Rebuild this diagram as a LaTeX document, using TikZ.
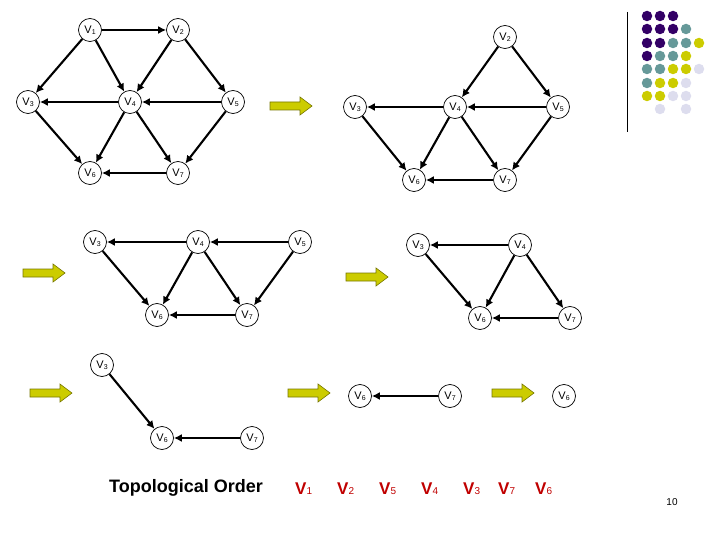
\documentclass[tikz,border=0pt]{standalone}
\usepackage{fontspec}
\setmainfont{Liberation Sans}
\usetikzlibrary{arrows.meta}
\definecolor{dpurple}{HTML}{330066}
\definecolor{dteal}{HTML}{669999}
\definecolor{dyellow}{HTML}{CCCC00}
\definecolor{dlav}{HTML}{DDDDEE}
\definecolor{ordred}{HTML}{C00000}
\definecolor{arrowedge}{HTML}{777700}
\newcommand{\vlab}[1]{V\kern0.2pt\raisebox{-1pt}{\fontsize{7}{7}\selectfont #1}}
\newcommand{\olab}[1]{\textbf{V}\raisebox{-0.5pt}{\fontsize{10}{10}\selectfont #1}}
\tikzset{
  vert/.style={circle, draw, line width=0.7pt, minimum size=23pt, inner sep=0pt,
    fill=white, font=\fontsize{11}{11}\selectfont},
  edge/.style={line width=2.1pt, -{Latex[length=8pt,width=8pt]}},
  ord/.style={text=ordred, font=\fontsize{17}{17}\selectfont, anchor=base west, inner sep=0pt},
  dot/.style={circle, inner sep=0pt, minimum size=10.5pt},
  pics/blockarrow/.style={code={
    \draw[fill=dyellow, draw=arrowedge, line width=0.6pt]
      (0,-4)--(30,-4)--(30,-9)--(42,0)--(30,9)--(30,4)--(0,4)--cycle;}}
}
\begin{document}
\begin{tikzpicture}[x=1pt,y=-1pt]
\useasboundingbox (0,0) rectangle (720,540);
% graph 1
\node[vert] (a1) at (90,30) {\vlab1};
\node[vert] (a2) at (178,30) {\vlab2};
\node[vert] (a3) at (28,102) {\vlab3};
\node[vert] (a4) at (130,102) {\vlab4};
\node[vert] (a5) at (233,102) {\vlab5};
\node[vert] (a6) at (90,173) {\vlab6};
\node[vert] (a7) at (178,173) {\vlab7};
\draw[edge] (a1) -- (a2);
\draw[edge] (a1) -- (a3);
\draw[edge] (a1) -- (a4);
\draw[edge] (a2) -- (a4);
\draw[edge] (a2) -- (a5);
\draw[edge] (a4) -- (a3);
\draw[edge] (a5) -- (a4);
\draw[edge] (a3) -- (a6);
\draw[edge] (a4) -- (a6);
\draw[edge] (a4) -- (a7);
\draw[edge] (a5) -- (a7);
\draw[edge] (a7) -- (a6);
% graph 2
\pic at (270,106) {blockarrow};
\node[vert] (b2) at (505,37) {\vlab2};
\node[vert] (b3) at (355,107) {\vlab3};
\node[vert] (b4) at (455,107) {\vlab4};
\node[vert] (b5) at (558,107) {\vlab5};
\node[vert] (b6) at (414,180) {\vlab6};
\node[vert] (b7) at (505,180) {\vlab7};
\draw[edge] (b2) -- (b4);
\draw[edge] (b2) -- (b5);
\draw[edge] (b4) -- (b3);
\draw[edge] (b5) -- (b4);
\draw[edge] (b3) -- (b6);
\draw[edge] (b4) -- (b6);
\draw[edge] (b4) -- (b7);
\draw[edge] (b5) -- (b7);
\draw[edge] (b7) -- (b6);
% graph 3
\pic at (23,273) {blockarrow};
\node[vert] (c3) at (95,242) {\vlab3};
\node[vert] (c4) at (198,242) {\vlab4};
\node[vert] (c5) at (300,242) {\vlab5};
\node[vert] (c6) at (157,315) {\vlab6};
\node[vert] (c7) at (247,315) {\vlab7};
\draw[edge] (c4) -- (c3);
\draw[edge] (c5) -- (c4);
\draw[edge] (c3) -- (c6);
\draw[edge] (c4) -- (c6);
\draw[edge] (c4) -- (c7);
\draw[edge] (c5) -- (c7);
\draw[edge] (c7) -- (c6);
% graph 4
\pic at (346,277) {blockarrow};
\node[vert] (d3) at (418,245) {\vlab3};
\node[vert] (d4) at (520,245) {\vlab4};
\node[vert] (d6) at (480,318) {\vlab6};
\node[vert] (d7) at (570,318) {\vlab7};
\draw[edge] (d4) -- (d3);
\draw[edge] (d3) -- (d6);
\draw[edge] (d4) -- (d6);
\draw[edge] (d4) -- (d7);
\draw[edge] (d7) -- (d6);
% graph 5
\pic at (30,393) {blockarrow};
\node[vert] (e3) at (102,365) {\vlab3};
\node[vert] (e6) at (162,438) {\vlab6};
\node[vert] (e7) at (252,438) {\vlab7};
\draw[edge] (e3) -- (e6);
\draw[edge] (e7) -- (e6);
% graph 6
\pic at (288,393) {blockarrow};
\node[vert] (f6) at (360,396) {\vlab6};
\node[vert] (f7) at (450,396) {\vlab7};
\draw[edge] (f7) -- (f6);
% graph 7
\pic at (492,393) {blockarrow};
\node[vert] (g6) at (564,396) {\vlab6};
% order
\node[anchor=base, font=\fontsize{18}{18}\selectfont\bfseries] (topo) at (186,492) {Topological Order};
\node[ord] (o1) at (295,494) {\olab1};
\node[ord] (o2) at (337,494) {\olab2};
\node[ord] (o5) at (379,494) {\olab5};
\node[ord] (o4) at (421,494) {\olab4};
\node[ord] (o3) at (463,494) {\olab3};
\node[ord] (o7) at (498,494) {\olab7};
\node[ord] (o6) at (535,494) {\olab6};
\node[font=\fontsize{10}{10}\selectfont] (pg) at (672,502) {10};
% sidebar
\coordinate (lt) at (627,12);
\coordinate (lb) at (627,132);
\draw[line width=0.8pt] (lt) -- (lb);
\foreach \x/\y/\c in {647/16/dpurple,660/16/dpurple,673/16/dpurple,
  647/29/dpurple,660/29/dpurple,673/29/dpurple,686/29/dteal,
  647/43/dpurple,660/43/dpurple,673/43/dteal,686/43/dteal,699/43/dyellow,
  647/56/dpurple,660/56/dteal,673/56/dteal,686/56/dyellow,
  647/69/dteal,660/69/dteal,673/69/dyellow,686/69/dyellow,699/69/dlav,
  647/83/dteal,660/83/dyellow,673/83/dyellow,686/83/dlav,
  647/96/dyellow,660/96/dyellow,673/96/dlav,686/96/dlav,
  660/109/dlav,686/109/dlav}
  \node[dot, fill=\c] at (\x,\y) {};
\end{tikzpicture}
\end{document}
